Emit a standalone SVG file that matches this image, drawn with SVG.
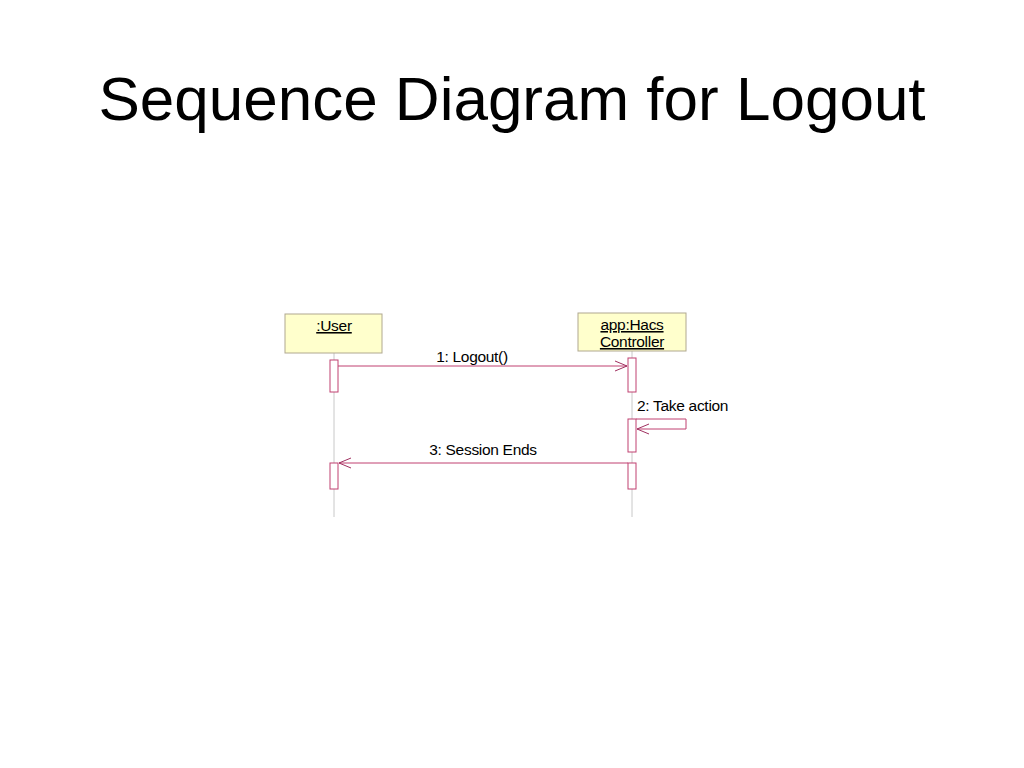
<svg xmlns="http://www.w3.org/2000/svg" width="1024" height="768" viewBox="0 0 1024 768">
<defs>
<marker id="ah" markerWidth="14" markerHeight="12" refX="13" refY="6" orient="auto" markerUnits="userSpaceOnUse"><path d="M1,1 L13,6 L1,11" fill="none" stroke="#a03060" stroke-width="1"/></marker>
<style>
.obj{fill:#ffffcc;stroke:#b0a890;stroke-width:1}
.life{stroke:#c8c8c8;stroke-width:1}
.act{fill:#fff;stroke:#c04070;stroke-width:1}
.msg{stroke:#c04070;stroke-width:1;fill:none}
text{font-family:"Liberation Sans",Arial,sans-serif;fill:#000}
.t{font-size:15.5px;letter-spacing:-0.3px}
</style>
</defs>
<rect width="1024" height="768" fill="#fff"/>
<text x="512" y="120" font-size="62" text-anchor="middle">Sequence Diagram for Logout</text>
<g id="lifelines">
<line class="life" x1="334" y1="353" x2="334" y2="517"/>
<line class="life" x1="632" y1="351" x2="632" y2="517"/>
</g>
<g id="user">
<rect class="obj" x="285" y="314" width="97" height="39"/>
<text class="t" x="334" y="331" text-anchor="middle" text-decoration="underline">:User</text>
</g>
<g id="controller">
<rect class="obj" x="578" y="313" width="108" height="38"/>
<text class="t" x="632" y="330" text-anchor="middle" text-decoration="underline">app:Hacs </text>
<text class="t" x="632" y="347" text-anchor="middle" text-decoration="underline">Controller</text>
</g>
<g id="activations">
<rect class="act" x="330" y="360" width="8" height="32"/>
<rect class="act" x="628" y="358" width="8" height="34"/>
<rect class="act" x="628" y="419" width="8" height="33"/>
<rect class="act" x="628" y="463" width="8" height="26"/>
<rect class="act" x="330" y="463" width="8" height="26"/>
</g>
<g id="connectors">
<line class="msg" x1="338" y1="366" x2="627" y2="366" marker-end="url(#ah)"/>
<text class="t" x="472" y="362" text-anchor="middle">1: Logout()</text>
<polyline class="msg" points="636,419 686,419 686,429 637,429" marker-end="url(#ah)"/>
<text class="t" x="637" y="411">2: Take action</text>
<line class="msg" x1="628" y1="463" x2="339" y2="463" marker-end="url(#ah)"/>
<text class="t" x="483" y="455" text-anchor="middle">3: Session Ends</text>
</g>
</svg>
